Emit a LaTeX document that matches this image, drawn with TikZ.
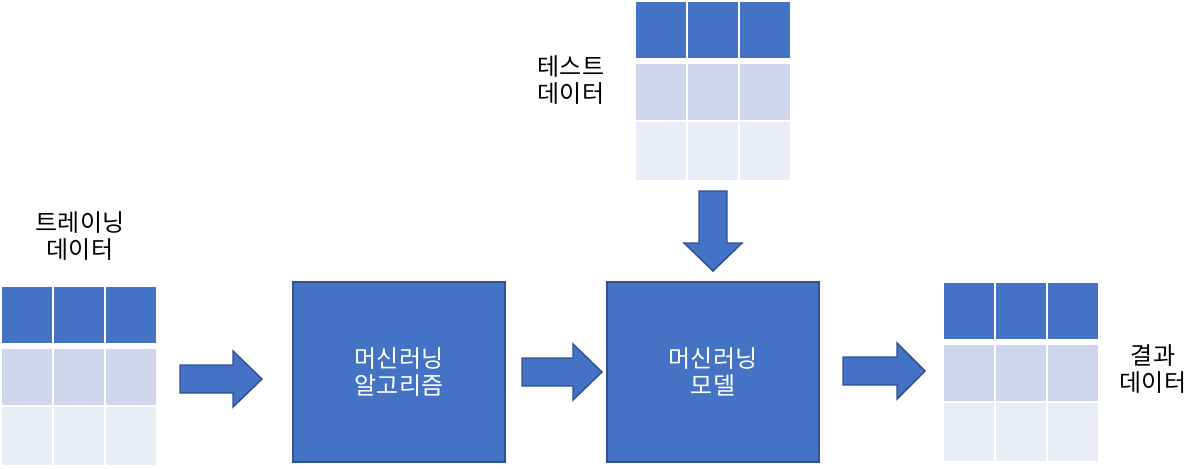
\documentclass[tikz,border=0pt]{standalone}
\usepackage{fontspec}
\setmainfont{Noto Sans CJK KR}
\usetikzlibrary{positioning}

\definecolor{mlblue}{HTML}{4472C4}
\definecolor{mledge}{HTML}{2F528F}
\definecolor{rowmid}{HTML}{CFD5EA}
\definecolor{rowlow}{HTML}{E9EBF5}

\tikzset{
  label/.style={align=center, font=\fontsize{18}{20}\selectfont},
  mlbox/.style={draw=mledge, line width=1pt, fill=mlblue, text=white,
    minimum width=159pt, minimum height=135pt, label},
  blockarrow/.style={draw=mledge, line width=1.1pt, fill=mlblue, line join=miter},
}

% tabella 3x3: #1 = x sinistra, #2 = y alto (pixel)
\newcommand{\datatable}[2]{
  \foreach \c in {0,1,2} {
    \fill[mlblue] ({#1+52*\c},#2) rectangle ++(50,56);
    \fill[rowmid] ({#1+52*\c},{#2+62}) rectangle ++(50,56);
    \fill[rowlow] ({#1+52*\c},{#2+120}) rectangle ++(50,58);
  }
}

\begin{document}
\begin{tikzpicture}[x=0.75pt, y=-0.75pt]
        \useasboundingbox (0,0) rectangle (1203,468);

        % Tabelle dei dati
        \datatable{2}{287}   % training
        \datatable{636}{2}   % test
        \datatable{944}{283} % risultato

        % Etichette
        \node[label] (trainlbl) at (80,236) {트레이닝\\데이터};
        \node[label] (testlbl) at (571,80) {테스트\\데이터};
        \node[label] (resultlbl) at (1153,369) {결과\\데이터};

        % Blocchi
        \node[mlbox] (algo) at (399,372) {머신러닝\\알고리즘};
        \node[mlbox] (model) at (713,372) {머신러닝\\모델};

        % Frecce a blocco
        \draw[blockarrow] (180,365) -- (233,365) -- (233,351) -- (262,379)
          -- (233,407) -- (233,393) -- (180,393) -- cycle;
        \draw[blockarrow] (522,358) -- (573,358) -- (573,344) -- (602,372)
          -- (573,400) -- (573,386) -- (522,386) -- cycle;
        \draw[blockarrow] (843,357) -- (897,357) -- (897,343) -- (925,371)
          -- (897,399) -- (897,385) -- (843,385) -- cycle;
        \draw[blockarrow] (699,191) -- (727,191) -- (727,243) -- (742,243)
          -- (713,271) -- (684,243) -- (699,243) -- cycle;
    \end{tikzpicture}
\end{document}
